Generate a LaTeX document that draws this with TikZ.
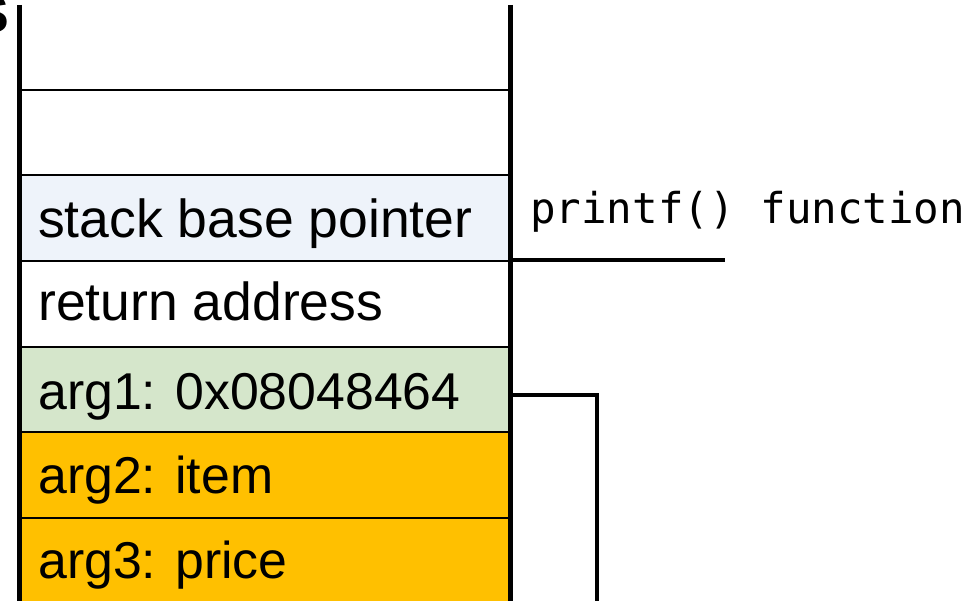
\documentclass[tikz,border=0pt]{standalone}
\usepackage{fontspec}
\setmainfont{Liberation Sans}
\newfontfamily\codefont{DejaVu Sans Mono}
\definecolor{sbpblue}{HTML}{EEF3FA}
\definecolor{arggreen}{HTML}{D5E6CB}
\definecolor{argamber}{HTML}{FFC000}
\begin{document}
\begin{tikzpicture}[x=1pt,y=-1pt,
  cell/.style={draw=none, minimum width=491pt, minimum height=85.6pt,
    inner sep=0pt, outer sep=0pt, anchor=north west},
  sep/.style={line width=2pt},
  wall/.style={line width=5pt},
  link/.style={line width=4pt},
  lbl/.style={anchor=base west, inner sep=0pt,
    font=\fontsize{53.5}{60}\selectfont},
  arglbl/.style={lbl, font=\fontsize{51.8}{60}\selectfont},
  code/.style={anchor=base west, inner sep=0pt,
    font=\codefont\fontsize{42.5}{50}\selectfont}]
\useasboundingbox (0,0) rectangle (976,601);

% stack frame cells, top to bottom
\node[cell, minimum height=85pt] (r0) at (19,5) {};
\node[cell, anchor=north west] (r1) at (19,90) {};
\node[cell, fill=sbpblue] (r2) at (19,175.5) {};
\node[cell] (r3) at (19,261) {};
\node[cell, fill=arggreen] (r4) at (19,346.5) {};
\node[cell, fill=argamber] (r5) at (19,432) {};
\node[cell, fill=argamber, minimum height=90pt] (r6) at (19,517.5) {};

% cell labels
\node[lbl] (t2) at ([shift={(19,62)}]r2.north west) {stack base pointer};
\node[lbl] (t3) at ([shift={(19,59)}]r3.north west) {return address};
\node[arglbl] (t4) at ([shift={(19,62.5)}]r4.north west) {arg1: 0x08048464};
\node[arglbl] (t5) at ([shift={(19,61)}]r5.north west) {arg2: item};
\node[arglbl] (t6) at ([shift={(19,61)}]r6.north west) {arg3: price};

% cell separators
\foreach \r in {r1,r2,r3,r4,r5,r6}
  \draw[sep] (\r.north west) -- (\r.north east);

% stack walls
\coordinate (lb) at (19,610);
\coordinate (rb) at (510,610);
\draw[wall] (r0.north west) -- (lb);
\draw[wall] (r0.north east) -- (rb);

% frame marker for printf()
\node[code] (fn) at (530,224) {printf() function};
\coordinate (mk) at (725,260);
\draw[line width=4pt] (r3.north east) ++(0,-1) coordinate (mks) -- (mk);

% pointer from arg1
\coordinate (pt) at (597,394.5);
\coordinate (pb) at (597,610);
\draw[link] ([shift={(2,48)}]r4.north east) -- (pt) -- (pb);

% clipped heading glyph at the top-left edge
\node[anchor=north east, inner sep=0pt, font=\fontsize{52}{60}\selectfont\bfseries] (hd) at (9,-4) {S};
\end{tikzpicture}
\end{document}
